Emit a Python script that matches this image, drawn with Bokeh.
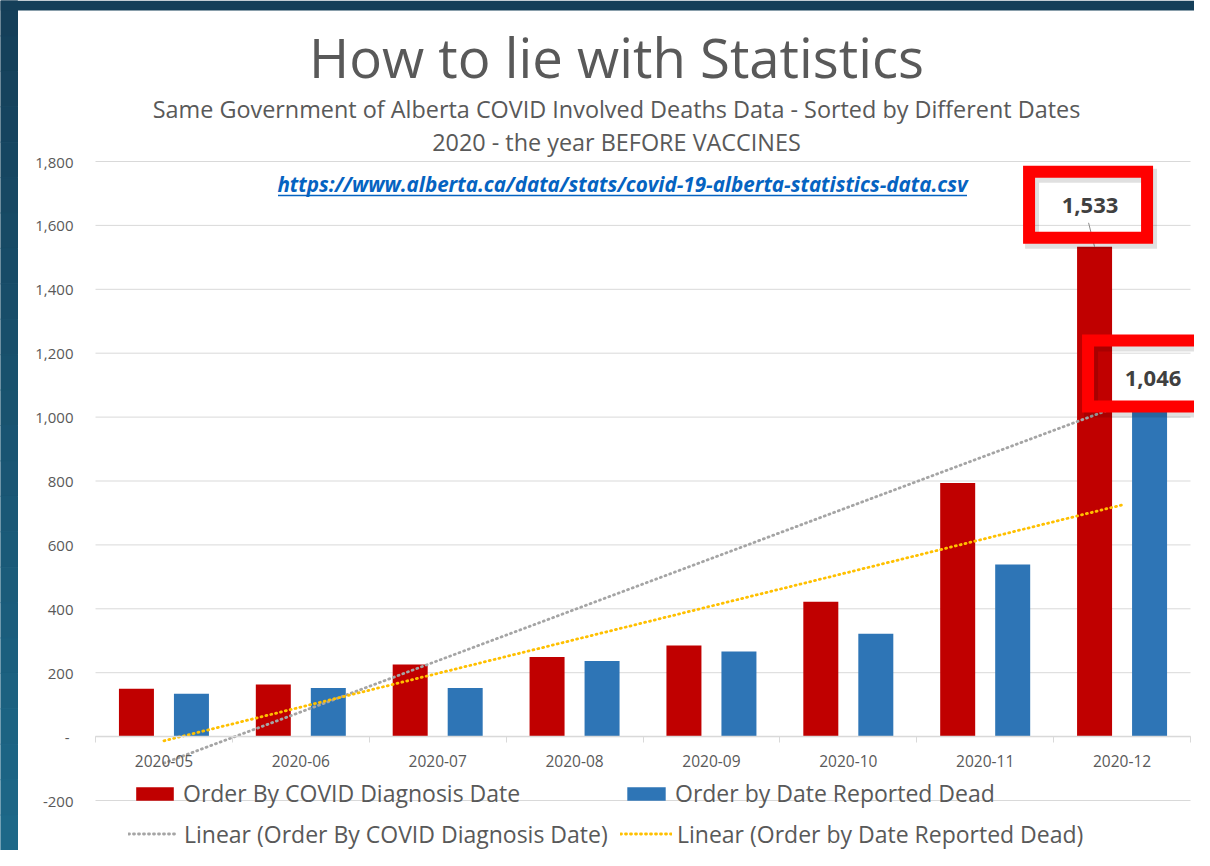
import numpy as np
from bokeh.plotting import figure
from bokeh.models import (Range1d, FixedTicker, NumeralTickFormatter, Legend, LegendItem,
                          Label, BoxAnnotation)
from bokeh.core.properties import value
from bokeh.embed import file_html
from bokeh.resources import INLINE

# ---------------- data ----------------
categories = ["2020-05", "2020-06", "2020-07", "2020-08", "2020-09", "2020-10", "2020-11", "2020-12"]
by_diagnosis = [150, 163, 226, 249, 285, 422, 794, 1533]
by_reported = [134, 152, 152, 237, 266, 322, 539, 1046]
y_ticks = [-200, 0, 200, 400, 600, 800, 1000, 1200, 1400, 1600, 1800]

title_text = "How to lie with Statistics"
subtitle_1 = "Same Government of Alberta COVID Involved Deaths Data - Sorted by Different Dates"
subtitle_2 = "2020 - the year BEFORE VACCINES"
url_text = "https://www.alberta.ca/data/stats/covid-19-alberta-statistics-data.csv"
series_names = ["Order By COVID Diagnosis Date", "Order by Date Reported Dead"]
trend_names = ["Linear (Order By COVID Diagnosis Date)", "Linear (Order by Date Reported Dead)"]

# ---------------- layout (picture pixels, origin = canvas top-left) ----------------
FIG_W, FIG_H = 1194, 850
FRAME_L, FRAME_R = 0, FIG_W          # frame fills the whole canvas
FRAME_T, FRAME_B = 0, FIG_H
PLOT_L, PLOT_R = 95, 1190            # Excel plot area
Y_TOP, Y_TOP_PX, Y_LOW, Y_LOW_PX = 1800, 161, -200, 800
n = len(categories)
ppy = (Y_LOW_PX - Y_TOP_PX) / (Y_TOP - Y_LOW)
ppx = (PLOT_R - PLOT_L) / n


def X(px):
    return (px - PLOT_L) / ppx


def Y(py):
    return Y_TOP - (py - Y_TOP_PX) / ppy


TEXT = "#595959"
FONT = "Open Sans"
RED, BLUE, GRAY, YELLOW = "#C00000", "#2E75B6", "#A5A5A5", "#FFC000"
GRID = "#D9D9D9"

p = figure(width=FIG_W, height=FIG_H,
           x_range=Range1d(X(FRAME_L), X(FRAME_R)), y_range=Range1d(Y(FRAME_B), Y(FRAME_T)),
           output_backend="svg", toolbar_location=None, title=None,
           min_border_left=0, min_border_right=0, min_border_top=0, min_border_bottom=0)
p.outline_line_color = None
p.background_fill_color = "white"
p.border_fill_color = "white"
p.xgrid.visible = False
p.ygrid.visible = False

# slide background strips (left and top edge), drawn as a stepped gradient
steps = 24
band_cols = []
c0, c1 = np.array([0x15, 0x3F, 0x59]), np.array([0x1D, 0x68, 0x88])
for i in range(steps):
    c = c0 + (c1 - c0) * i / (steps - 1)
    band_cols.append("#%02x%02x%02x" % tuple(int(round(v)) for v in c))
edges = np.linspace(FRAME_T, FRAME_B, steps + 1)
p.quad(left=[X(FRAME_L)] * steps, right=[X(17)] * steps,
       top=[Y(e) for e in edges[:-1]], bottom=[Y(e) for e in edges[1:]],
       fill_color=band_cols, line_color=band_cols, line_width=1, level="underlay")
p.quad(left=[X(FRAME_L)], right=[X(FRAME_R)], top=[Y(FRAME_T)], bottom=[Y(10)],
       fill_color=band_cols[0], line_color=None, level="underlay")

centers = np.arange(n) + 0.5

# horizontal gridlines across the plot area only
p.segment(x0=[0] * len(y_ticks), x1=[n] * len(y_ticks), y0=y_ticks, y1=y_ticks,
          line_color=GRID, line_width=1)

# x axis at zero
xa = p.xaxis[0]
xa.ticker = FixedTicker(ticks=list(centers), minor_ticks=list(range(n + 1)))
xa.major_label_overrides = {float(c): cat for c, cat in zip(centers, categories)}
xa.fixed_location = 0
xa.bounds = (0, n)
xa.axis_line_color = GRID
xa.axis_line_width = 1.5
xa.major_tick_line_color = None
xa.minor_tick_line_color = GRID
xa.minor_tick_out = 6
xa.minor_tick_in = 0
xa.major_label_standoff = 12
xa.major_label_text_font = FONT
xa.major_label_text_font_size = "15.5px"
xa.major_label_text_color = TEXT

# y axis at the left edge of the plot area
ya = p.yaxis[0]
ya.ticker = FixedTicker(ticks=y_ticks)
ya.formatter = NumeralTickFormatter(format="0,0")
ya.major_label_overrides = {0: "- "}
ya.fixed_location = 0
ya.axis_line_color = None
ya.major_tick_line_color = None
ya.major_tick_out = 0
ya.major_tick_in = 0
ya.minor_tick_line_color = None
ya.major_label_standoff = 22
ya.major_label_text_font = FONT
ya.major_label_text_font_size = "15px"
ya.major_label_text_color = TEXT

# bars
bar_w = 35 / ppx
off = 27.5 / ppx
r_red = p.vbar(x=centers - off, top=by_diagnosis, width=bar_w, fill_color=RED, line_color=None)
r_blue = p.vbar(x=centers + off, top=by_reported, width=bar_w, fill_color=BLUE, line_color=None)

# linear trendlines (least squares over series index)
k = np.arange(1, n + 1)
fit_red = np.polyval(np.polyfit(k, by_diagnosis, 1), k)
fit_blue = np.polyval(np.polyfit(k, by_reported, 1), k)
r_tr_red = p.line(centers, fit_red, line_color=GRAY, line_width=2.8, line_dash="1 4", line_cap="round")
r_tr_blue = p.line(centers, fit_blue, line_color=YELLOW, line_width=2.8, line_dash="1 4", line_cap="round")

# data labels on last month with highlight boxes
last_vals = [by_diagnosis[-1], by_reported[-1]]
last_x = [centers[-1] - off, centers[-1] + off]
lab_dx = [-4.5, 3.5]   # label centre offset from bar centre (px)
lab_px = [41, 24]      # label centre above bar top (px)
box_dx = [-6.5, -2.5]  # box centre offset from bar centre (px)
box_px = [42, 29]      # box centre above bar top (px)
p.segment(x0=[last_x[0] - 6 / ppx], y0=[last_vals[0] + 24 / ppy], x1=[last_x[0]], y1=[last_vals[0]],
          line_color="#8C8C8C", line_width=1)
p.text(x=[xv + d / ppx for xv, d in zip(last_x, lab_dx)],
       y=[v + b / ppy for v, b in zip(last_vals, lab_px)],
       text=[f"{v:,}" for v in last_vals], text_align="center", text_baseline="middle",
       text_font=value(FONT), text_font_style="bold", text_font_size="22px", text_color="#404040")
for xv, v, d, b in zip(last_x, last_vals, box_dx, box_px):
    cx = xv + d / ppx
    cy = v + b / ppy
    # soft drop shadow
    p.add_layout(BoxAnnotation(left=cx - 56 / ppx, right=cx + 62 / ppx,
                               bottom=cy - 37 / ppy, top=cy + 29 / ppy,
                               fill_alpha=0, line_color="#000000", line_alpha=0.12,
                               line_width=14, line_join="miter", level="overlay"))
    p.add_layout(BoxAnnotation(left=cx - 59 / ppx, right=cx + 59 / ppx,
                               bottom=cy - 33 / ppy, top=cy + 33 / ppy,
                               fill_alpha=0, line_color="#FF0000", line_alpha=1.0,
                               line_width=12, line_join="miter", level="overlay"))

# titles
TITLE_CX = 616
p.add_layout(Label(x=X(TITLE_CX), y=Y(56), text=title_text, text_align="center", text_baseline="middle",
                   text_font=FONT, text_font_size="54.5px", text_color=TEXT))
p.add_layout(Label(x=X(TITLE_CX), y=Y(108.5), text=subtitle_1, text_align="center", text_baseline="middle",
                   text_font=FONT, text_font_size="23.4px", text_color=TEXT))
p.add_layout(Label(x=X(TITLE_CX), y=Y(141.5), text=subtitle_2, text_align="center", text_baseline="middle",
                   text_font=FONT, text_font_size="23.4px", text_color=TEXT))
URL_C, URL_W = 622, 689
p.add_layout(Label(x=X(URL_C), y=Y(183), text=url_text, text_align="center", text_baseline="middle",
                   text_font=FONT, text_font_size="20.6px", text_font_style="bold italic", text_color="#0563C1"))
p.segment(x0=[X(URL_C - URL_W / 2)], y0=[Y(195)], x1=[X(URL_C + URL_W / 2)], y1=[Y(195)],
          line_color="#0563C1", line_width=1.5)

# legends (4 single-item legends laid out like the Excel legend grid)
leg_specs = [
    (series_names[0], r_red, 131, 794.5, 47, 5),
    (series_names[1], r_blue, 622, 794.5, 48, 5),
    (trend_names[0], r_tr_red, 128, 835.0, 50, 6),
    (trend_names[1], r_tr_blue, 620, 835.0, 52, 5),
]
ROW_H = 29
for label, rend, lx, cy, gw, stand in leg_specs:
    leg = Legend(items=[LegendItem(label=label, renderers=[rend])],
                 location=(lx - FRAME_L, FRAME_B - (cy + ROW_H / 2)),
                 orientation="horizontal", padding=0, margin=0, spacing=0,
                 glyph_width=gw, glyph_height=17, label_standoff=stand, label_height=ROW_H,
                 border_line_color=None, background_fill_alpha=0,
                 label_text_font=FONT, label_text_font_size="23px", label_text_color=TEXT,
                 label_text_baseline="middle")
    p.add_layout(leg)

open("out.html", "w").write(file_html(p, INLINE))
